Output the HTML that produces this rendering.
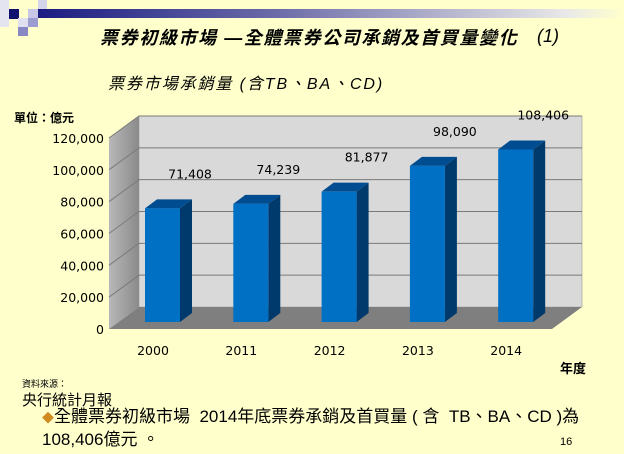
<!DOCTYPE html>
<html><head><meta charset="utf-8">
<style>
body{margin:0;width:624px;height:454px;background:#ffffcc;position:relative;overflow:hidden;font-family:"Liberation Sans","Noto Sans CJK TC",sans-serif;}
.a{position:absolute;white-space:nowrap;}
</style></head><body>
<div class="a" style="left:38px;top:9px;width:586px;height:9px;background:linear-gradient(90deg,#1c1c82,#6a6aa8 40%,#e8e8e8 90%,#ffffcc)"></div>
<div class="a" style="left:9px;top:9px;width:10px;height:10px;background:#10106e"></div>
<div class="a" style="left:0;top:0;width:9px;height:27px;background:#e4e4f0"></div>
<div class="a" style="left:28px;top:9px;width:10px;height:9px;background:#c8c8e6"></div>
<div class="a" style="left:38px;top:0;width:9px;height:9px;background:#d4d4ea"></div>
<div class="a" style="left:28px;top:18px;width:10px;height:9px;background:#9c9cd0"></div>
<div class="a" style="left:18px;top:27px;width:10px;height:9px;background:#8888c4"></div>
<div class="a" style="left:18px;top:18px;width:10px;height:9px;background:#e0e0f0"></div>

<div class="a" style="left:100px;top:24px;font-size:18px;font-weight:bold;font-style:italic;letter-spacing:1.6px;">票券初級市場 —全體票券公司承銷及首買量變化</div>
<div class="a" style="left:537px;top:26px;font-size:18px;font-style:italic;">(1)</div>
<div class="a" style="left:108px;top:70px;font-size:16px;font-style:italic;letter-spacing:1.9px;">票券市場承銷量 (含TB、BA、CD)</div>
<div class="a" style="left:14px;top:109px;font-size:12px;font-weight:bold;">單位：億元</div>

<svg class="a" style="left:0;top:0" width="624" height="454">
<defs><linearGradient id="lw" x1="0" x2="1"><stop offset="0" stop-color="#b8b8b8"/><stop offset="1" stop-color="#8a8a8a"/></linearGradient></defs>
<g id="g"></g></svg>

<div class="a" style="left:560px;top:358px;font-size:13px;font-weight:bold;">年度</div>
<div class="a" style="left:22px;top:377px;font-size:9px;">資料來源：</div>
<div class="a" style="left:22px;top:389px;font-size:15px;">央行統計月報</div>
<div class="a" style="left:42px;top:402px;font-size:17px;"><span style="color:#d08a20;font-size:12px">◆</span>全體票券初級市場&nbsp; 2014年底票券承銷及首買量 ( 含&nbsp; TB、BA、CD )為</div>
<div class="a" style="left:42px;top:425px;font-size:17px;">108,406億元 。</div>
<div class="a" style="left:560px;top:436px;font-size:11px;">16</div>

<script>
const categories=["2000","2011","2012","2013","2014"];
const values=[71408,74239,81877,98090,108406];
const valueLabels=["71,408","74,239","81,877","98,090","108,406"];
const yTicks=[0,20000,40000,60000,80000,100000,120000];
const yTickLabels=["0","20,000","40,000","60,000","80,000","100,000","120,000"];

const NS="http://www.w3.org/2000/svg",g=document.getElementById('g');
const yMax=120000,front0=329,back0=307,H=191,DX=30,DY=-22;
const fx=109,bx=139,bRight=582;
function yFront(v){return front0-v/yMax*H;}
function yBack(v){return back0-v/yMax*H;}
function yBar(v){return 322-v/yMax*H;}
function xBar(i){return 145+i*88.3;}
function xCat(i){return 153+i*88.3;}
function mk(t,a){const e=document.createElementNS(NS,t);for(const k in a)e.setAttribute(k,a[k]);g.appendChild(e);return e;}
let e;
e=mk('polygon',{points:`${bx},${yBack(yMax)} ${bRight},${yBack(yMax)} ${bRight},${back0} ${bx},${back0}`,fill:'#d9d9d9',stroke:'#999','stroke-width':0.6});

e=mk('polygon',{points:`${fx},${yFront(yMax)} ${bx},${yBack(yMax)} ${bx},${back0} ${fx},${front0}`,fill:'url(#lw)'});

e=mk('polygon',{points:`${fx},${front0} ${bx},${back0} ${bRight},${back0} ${bRight-DX},${front0}`,fill:'#7f7f7f'});

yTicks.forEach((t,i)=>{
  if(t>0){
    e=mk('polyline',{points:`${fx},${yFront(t)} ${bx},${yBack(t)} ${bRight},${yBack(t)}`,fill:'none',stroke:'#7a7a7a','stroke-width':1});
    
  }
  e=mk('text',{x:104,y:yFront(t)+5,'text-anchor':'end','font-size':12.5,'font-family':'DejaVu Sans, sans-serif'});
  e.textContent=yTickLabels[i];
  
});
values.forEach((v,i)=>{
  const x=xBar(i),w=35,top=yBar(v),b=322;
  e=mk('polygon',{points:`${x+w},${b} ${x+w+12},${b-9} ${x+w+12},${top-9} ${x+w},${top}`,fill:'#003a6c'});
  
  e=mk('polygon',{points:`${x},${top} ${x+12},${top-9} ${x+w+12},${top-9} ${x+w},${top}`,fill:'#004c90'});
  
  e=mk('rect',{x:x,y:top,width:w,height:b-top,fill:'#0070c4'});
  
  e=mk('text',{x:x+45,y:top-30,'text-anchor':'middle','font-size':12.5,'font-family':'DejaVu Sans, sans-serif'});
  e.textContent=valueLabels[i];
  
  e=mk('text',{x:xCat(i),y:355,'text-anchor':'middle','font-size':12.5,'font-family':'DejaVu Sans, sans-serif'});
  e.textContent=categories[i];
  
});
</script>
</body></html>
